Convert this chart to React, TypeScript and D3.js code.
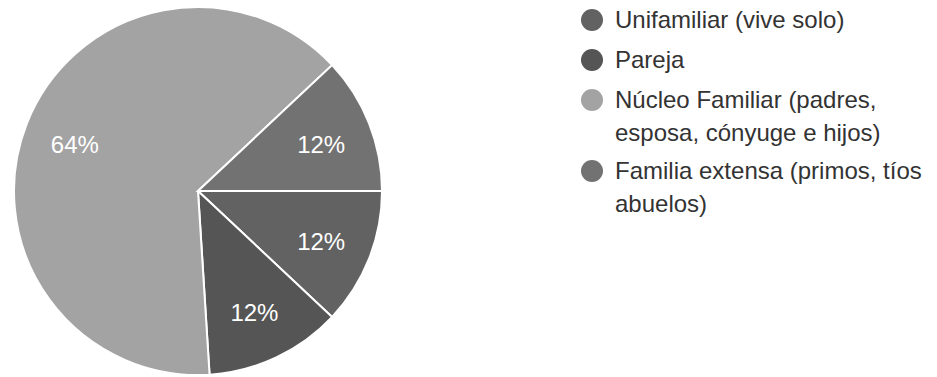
import React from "react";
import * as d3 from "d3";

const categories = [
  "Unifamiliar (vive solo)",
  "Pareja",
  "Núcleo Familiar (padres, esposa, cónyuge e hijos)",
  "Familia extensa (primos, tíos abuelos)",
];
const values = [12, 12, 64, 12];
const legendLines = [
  ["Unifamiliar (vive solo)"],
  ["Pareja"],
  ["Núcleo Familiar (padres,", "esposa, cónyuge e hijos)"],
  ["Familia extensa (primos, tíos", "abuelos)"],
];
const sliceColors = ["#626262", "#555555", "#a3a3a3", "#727272"];

export default function App() {
  const W = 937, H = 377;
  const cx = 198, cy = 191, R = 184;
  const pie = d3.pie<number>().sort(null).startAngle(Math.PI / 2).endAngle(Math.PI / 2 + 2 * Math.PI);
  const arcs = pie(values);
  const arc = d3.arc<d3.PieArcDatum<number>>().innerRadius(0).outerRadius(R);
  const labelArc = d3.arc<d3.PieArcDatum<number>>().innerRadius(R * 0.72).outerRadius(R * 0.72);
  const total = d3.sum(values);
  const font = "'Liberation Sans', Arial, sans-serif";
  const legendX = 592, textX = 615;
  const itemY = [20, 60, 100, 171];
  return (
    <svg width={W} height={H} style={{ position: "absolute", left: 0, top: 0, background: "#fff" }}>
      <g transform={`translate(${cx},${cy})`}>
        {arcs.map((a, i) => (
          <path key={i} d={arc(a) || ""} fill={sliceColors[i]} stroke="#fff" strokeWidth={2} />
        ))}
        {arcs.map((a, i) => {
          const [x, y] = labelArc.centroid(a);
          return (
            <text key={"l" + i} x={x} y={y + 2} dy="0.35em" textAnchor="middle" fill="#fff"
              fontFamily={font} fontSize={24}>
              {d3.format(".0%")(a.data / total)}
            </text>
          );
        })}
      </g>
      {categories.map((c, i) => (
        <g key={c}>
          <circle cx={legendX} cy={itemY[i]} r={11} fill={sliceColors[i]} />
          {legendLines[i].map((ln, j) => (
            <text key={j} x={textX} y={itemY[i] + j * 33} dy="0.35em" fill="#333" fontFamily={font} fontSize={24}>
              {ln}
            </text>
          ))}
        </g>
      ))}
    </svg>
  );
}
